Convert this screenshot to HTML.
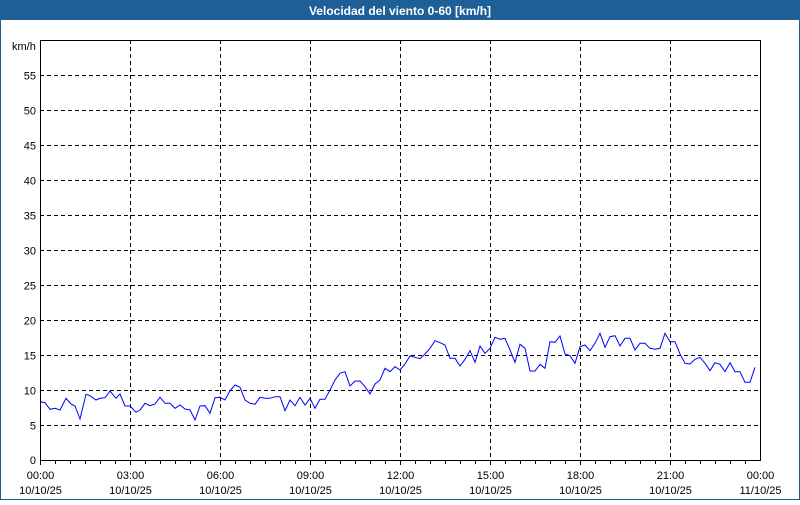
<!DOCTYPE html>
<html><head><meta charset="utf-8"><style>
body{margin:0;width:800px;height:500px;overflow:hidden;background:#fff;font-family:"Liberation Sans",Tahoma,sans-serif}
</style></head><body>
<svg id="s" width="800" height="500" xmlns="http://www.w3.org/2000/svg" font-family="Liberation Sans, sans-serif" font-size="11">
<rect x="0" y="0" width="800" height="500" fill="#fff"/>
<rect x="0.5" y="0.5" width="799" height="499" fill="none" stroke="#1f5f97" stroke-width="1"/>
<rect x="0" y="0" width="800" height="20" fill="#1f5f97"/>
<text x="400" y="15" text-anchor="middle" fill="#fff" font-weight="bold" font-size="12">Velocidad del viento 0-60 [km/h]</text>
<g id="g"></g>
<rect x="40.5" y="40.5" width="720" height="420" fill="none" stroke="#000"/>
<text x="12" y="50" font-size="11">km/h</text>
</svg>
<script>
var g=document.getElementById('g'),h='';
for(var i=1;i<12;i++){var y=460.5-i*35;h+='<line x1="40" x2="760" y1="'+y+'" y2="'+y+'" stroke="#000" stroke-dasharray="4,3"/>';h+='<text x="36" y="'+(y+4)+'" text-anchor="end">'+(i*5)+'</text>';}
h+='<text x="36" y="464" text-anchor="end">0</text>';
var lab=['00:00','03:00','06:00','09:00','12:00','15:00','18:00','21:00','00:00'];
for(var i=0;i<=8;i++){var x=40.5+i*90;if(i>0&&i<8)h+='<line x1="'+x+'" x2="'+x+'" y1="40" y2="460" stroke="#000" stroke-dasharray="4,3"/>';
h+='<text x="'+x+'" y="479" text-anchor="middle">'+lab[i]+'</text><text x="'+x+'" y="494" text-anchor="middle">'+(i==8?'11/10/25':'10/10/25')+'</text>';}
for(var i=0;i<48;i++){var x=40.5+i*15;h+='<line x1="'+x+'" x2="'+x+'" y1="460" y2="'+(i%6==0?465:464)+'" stroke="#000"/>';}
var a=[0,245,15,248,30,268,45,265,60,270,78,235,93,252,105,258,120,297,138,223,150,227,168,240,180,235,195,233,210,213,228,235,240,222,255,258,270,258,288,277,300,270,315,250,330,257,345,252,360,232,375,250,390,250,405,265,420,255,435,267,450,270,465,300,480,258,495,257,510,280,525,233,540,232,555,240,570,212,585,195,600,202,615,240,630,250,645,253,660,232,675,235,690,235,705,230,720,230,735,272,750,240,765,257,780,232,795,255,810,235,825,265,840,238,855,238,870,210,885,180,900,160,915,155,930,198,945,183,960,183,975,200,990,222,1005,192,1020,180,1035,145,1050,155,1065,140];
var b=[0,150,15,132,30,108,45,112,60,116,75,102,90,85,105,62,120,68,135,75,150,115,165,115,180,138,195,118,210,92,225,127,240,78,255,100,270,85,285,52,300,58,315,55,330,90,345,127,360,73,375,85,390,153,405,153,420,133,435,145,450,65,465,67,480,48,495,102,510,107,525,130,540,80,555,75,570,92,585,70,600,40,615,82,630,50,645,47,660,78,675,55,690,55,705,90,720,70,735,70,750,85,765,88,780,85,795,40,810,65,825,65,840,102,855,130,870,132,885,118,900,112,915,130,930,152,945,128,960,133,975,155,990,128,1005,155,1020,155,1035,187,1050,187,1065,142];
var p=[];for(var i=0;i<a.length;i+=2)p.push((40+a[i]/3).toFixed(1)+','+(320+a[i+1]/3).toFixed(1));
for(var i=0;i<b.length;i+=2)p.push((400+b[i]/3).toFixed(1)+','+(320+b[i+1]/3).toFixed(1));
h+='<polyline points="'+p.join(' ')+'" fill="none" stroke="#0000ff" stroke-width="1"/>';
g.innerHTML=h;
</script>
</body></html>
